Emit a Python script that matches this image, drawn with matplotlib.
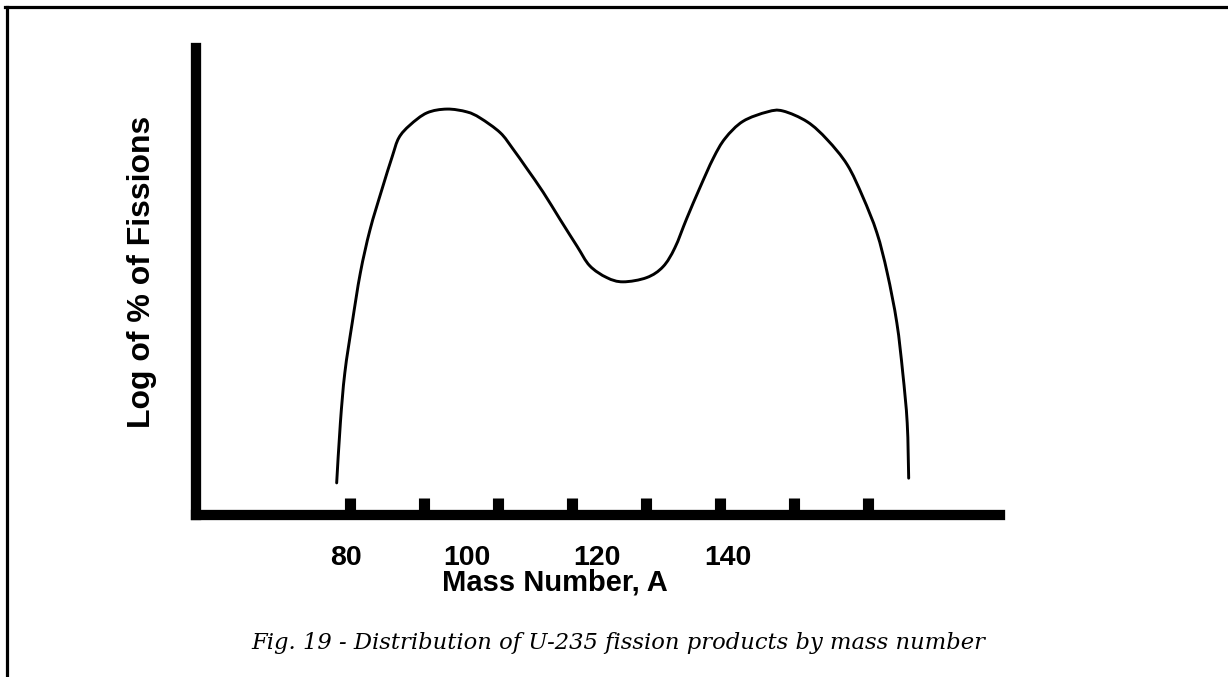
import matplotlib.pyplot as plt
from matplotlib.lines import Line2D
from matplotlib.path import Path
from matplotlib.patches import PathPatch
import numpy as np

# curve: mass number vs relative log-yield (0-100 of axis height)
mass = [78.2, 78.7, 79.3, 80.3, 81.4, 82.7, 84.3, 85.7, 86.6, 88.1, 90.4, 93.1,
        95.8, 97.6, 100.3, 102.0, 103.9, 106.1, 108.4, 110.7, 112.4, 114.7, 116.9,
        120.1, 122.3, 123.9, 125.5, 127.3, 129.1, 130.7, 133.1, 136.4, 138.5, 141.8,
        144.5, 147.2, 149.3, 151.2, 152.6, 153.9, 154.7, 155.3, 155.5]
log_yield = [6.8, 19.5, 30.1, 40.7, 51.3, 60.4, 68.9, 75.9, 79.9, 82.6, 85.2, 86.0,
             85.4, 84.1, 81.0, 77.6, 73.4, 68.4, 62.6, 56.9, 52.8, 50.3, 49.4,
             50.3, 52.6, 56.6, 62.8, 69.4, 75.6, 79.8, 83.4, 85.4, 85.6, 83.3,
             79.5, 74.2, 67.4, 59.8, 51.3, 40.7, 30.1, 19.5, 7.8]

tick_pos = [80, 90, 100, 110, 120, 130, 140, 150]
tick_labels = ["80", "100", "120", "140"]
label_at = [79.5, 95.8, 113.4, 131.1]   # where the printed numbers sit (they drift off the ticks)


def smooth_path(xs, ys):
    # Catmull-Rom through the read points, as cubic Bezier segments
    p = np.column_stack([xs, ys])
    p = np.vstack([p[0], p, p[-1]])
    verts = [p[1]]
    codes = [Path.MOVETO]
    for i in range(1, len(p) - 2):
        c1 = p[i] + (p[i + 1] - p[i - 1]) / 6
        c2 = p[i + 1] - (p[i + 2] - p[i]) / 6
        verts += [c1, c2, p[i + 1]]
        codes += [Path.CURVE4] * 3
    return Path(verts, codes)


fig = plt.figure(figsize=(12.28, 6.77), dpi=100)
fig.patch.set_facecolor("white")

# page frame (top and left edges only)
fig.add_artist(Line2D([5/1228, 1], [1 - 7/677, 1 - 7/677], color="black", lw=2.3,
                      transform=fig.transFigure, solid_capstyle="projecting"))
fig.add_artist(Line2D([6.5/1228, 6.5/1228], [0, 1 - 7/677], color="black", lw=2.3,
                      transform=fig.transFigure))

ax = fig.add_axes([196/1228, (677-515)/677, (1000-196)/1228, (515-48)/677])
ax.add_patch(PathPatch(smooth_path(mass, log_yield), facecolor="none",
                       edgecolor="black", lw=2.1, capstyle="round"))

ax.set_xlim(59.19, 167.84)
ax.set_ylim(0, 98.94)

for side in ["top", "right"]:
    ax.spines[side].set_visible(False)
for side in ["left", "bottom"]:
    ax.spines[side].set_linewidth(7.4)
    ax.spines[side].set_capstyle("projecting")

ax.set_xticks(tick_pos)
ax.set_yticks([])
ax.tick_params(axis="x", direction="in", length=12.2, width=8, color="black",
               labelbottom=False)

font = "Liberation Sans"
for x, lab in zip(label_at, tick_labels):
    ax.text(x, -0.092, lab, transform=ax.get_xaxis_transform(), ha="center",
            va="center", fontsize=20.5, fontweight="bold", family=font)

ax.text(107.7, -0.145, "Mass Number, A", transform=ax.get_xaxis_transform(),
        ha="center", va="center", fontsize=21, fontweight="bold", family=font)
ax.text(-0.067, 0.52, "Log of % of Fissions", transform=ax.transAxes, rotation=90,
        ha="center", va="center", fontsize=23, fontweight="bold", family=font)

fig.text(618/1228, 1 - 643/677,
         "Fig. 19 - Distribution of U-235 fission products by mass number",
         ha="center", va="center", fontsize=16.3, style="italic", family="DejaVu Serif")

fig.savefig("out.png", dpi=100, facecolor="white")
